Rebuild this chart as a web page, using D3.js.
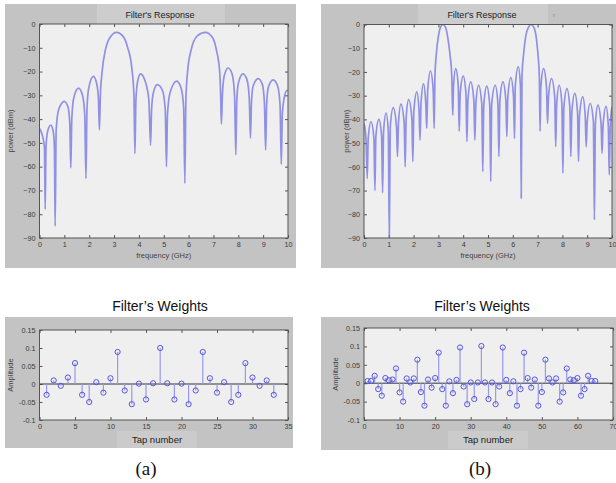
<!DOCTYPE html>
<html><head><meta charset="utf-8">
<script src="https://cdn.jsdelivr.net/npm/d3@7"></script>
<style>body{margin:0;background:#fff}svg{display:block}</style>
</head><body>
<svg id="c" width="616" height="483"></svg>
<script>
// ---------- DATA ----------
const freqTicks = [0,1,2,3,4,5,6,7,8,9,10];
const powerTicks = [0,-10,-20,-30,-40,-50,-60,-70,-80,-90];
const ampTicks = [0.15,0.1,0.05,0,-0.05,-0.1];
const tapTicksA = [0,5,10,15,20,25,30,35];
const tapTicksB = [0,10,20,30,40,50,60,70];

// response (a): [GHz, dBm]
const respA = [
[0,-44],[0.12,-47],[0.2,-52],[0.23,-78],
[0.26,-52],[0.33,-45],[0.45,-42.5],[0.55,-45],[0.6,-52],[0.63,-85],
[0.67,-45],[0.77,-36],[1.0,-32.5],[1.15,-35],[1.22,-42],[1.26,-60.5],
[1.3,-40],[1.38,-31],[1.57,-27],[1.73,-30],[1.82,-38],[1.87,-65],
[1.91,-36],[1.98,-27],[2.17,-22],[2.3,-25],[2.37,-31],[2.41,-44.5],
[2.45,-30],[2.52,-20],[2.65,-11],[2.85,-5.5],[3.1,-3.5],[3.35,-5],[3.55,-10],[3.72,-19],[3.8,-30],[3.84,-54.5],
[3.88,-32],[3.95,-24],[4.07,-21],[4.25,-24],[4.4,-32],[4.47,-51],
[4.51,-36],[4.58,-29],[4.74,-25.5],[4.95,-28],[5.06,-36],[5.11,-60],
[5.15,-38],[5.25,-29],[5.52,-24],[5.7,-27],[5.8,-35],[5.85,-67],
[5.89,-32],[5.96,-20],[6.1,-11],[6.35,-5],[6.68,-3.5],[6.95,-5.5],[7.12,-11],[7.25,-20],[7.29,-30],[7.32,-42],
[7.36,-30],[7.43,-22],[7.59,-18.5],[7.75,-21],[7.85,-30],[7.9,-55],
[7.94,-32],[8.01,-24.5],[8.19,-21],[8.35,-23.5],[8.44,-31],[8.49,-48],
[8.53,-33],[8.6,-26],[8.8,-23],[8.97,-25.5],[9.05,-33],[9.1,-53],
[9.14,-34],[9.21,-26.5],[9.4,-23.5],[9.58,-26],[9.68,-34],[9.73,-59],
[9.77,-38],[9.85,-31],[9.95,-28],[10,-28]
];

// response (b): [GHz, dBm]
const respB = [
[0,-41.7],[0.08,-48],[0.13,-65],
[0.17,-48],[0.28,-41],[0.4,-48],[0.44,-70],
[0.48,-47],[0.6,-40],[0.71,-47],[0.75,-71],
[0.79,-45],[0.89,-37.3],[0.98,-45],[1.02,-90],
[1.06,-43],[1.18,-35],[1.31,-43],[1.35,-55.7],
[1.39,-41.5],[1.49,-33.6],[1.62,-41.5],[1.66,-60],
[1.7,-39.5],[1.8,-31.7],[1.93,-39.5],[1.97,-57.8],
[2.01,-36.5],[2.13,-28.4],[2.22,-36.5],[2.26,-48.7],
[2.3,-33],[2.4,-25],[2.49,-33],[2.53,-43.8],
[2.57,-27.5],[2.68,-19.6],[2.79,-27.5],[2.83,-43.8],
[2.86,-22],[2.92,-12],[3.0,-5],[3.09,-1],[3.18,0],[3.28,-1],[3.37,-5],[3.46,-12],[3.54,-22],[3.58,-38.2],
[3.61,-26],[3.7,-18.6],[3.8,-26],[3.84,-45],
[3.88,-29],[4.0,-21.8],[4.11,-29],[4.15,-49.4],
[4.19,-32],[4.3,-24.2],[4.43,-32],[4.47,-48.7],
[4.51,-33.5],[4.62,-25.6],[4.75,-33.5],[4.79,-62],
[4.83,-34],[4.95,-26],[5.07,-34],[5.11,-66.2],
[5.15,-33.5],[5.29,-25.6],[5.4,-33.5],[5.44,-55.7],
[5.48,-32],[5.6,-24.2],[5.72,-32],[5.76,-47.3],
[5.8,-30.5],[5.92,-22.4],[6.03,-30.5],[6.07,-48],
[6.1,-26],[6.22,-17.9],[6.31,-26],[6.34,-73.2],
[6.37,-22],[6.44,-12],[6.52,-5],[6.64,-1],[6.73,0],[6.84,-1],[6.94,-5],[7.01,-12],[7.07,-22],[7.1,-45],
[7.13,-26.5],[7.24,-18.6],[7.36,-26.5],[7.4,-41.7],
[7.44,-30.5],[7.56,-22.8],[7.69,-30.5],[7.73,-51.5],
[7.77,-33.5],[7.87,-25.6],[7.98,-33.5],[8.02,-62.7],
[8.06,-35],[8.18,-27],[8.3,-35],[8.34,-55.7],
[8.38,-37],[8.5,-29],[8.61,-37],[8.65,-57.8],
[8.69,-38.5],[8.82,-30.5],[8.92,-38.5],[8.96,-51.5],
[9.0,-41],[9.12,-33.3],[9.25,-41],[9.29,-82.4],
[9.33,-42],[9.43,-34],[9.56,-42],[9.6,-54.3],
[9.64,-42.5],[9.76,-34.5],[9.85,-42.5],[9.89,-63.4],
[9.93,-43],[10,-34.7]
];

// weights (a): 33 taps
const weightsA = [-0.03,0.01,-0.005,0.018,0.058,-0.03,-0.05,0.005,-0.024,0.016,0.089,-0.018,-0.056,0.001,-0.043,0.002,0.1,
 0.002,-0.043,0.001,-0.056,-0.018,0.089,0.016,-0.024,0.005,-0.05,-0.03,0.058,0.018,-0.005,0.01,-0.03];
// weights (b): 65 taps
const weightsB = [0.006,0.006,0.02,-0.016,-0.034,0.014,0.008,0.01,0.04,-0.025,-0.05,0.013,0.002,0.013,0.064,-0.024,-0.061,0.01,-0.012,0.014,0.083,-0.016,-0.061,0.005,-0.027,0.009,0.097,-0.009,-0.057,0.002,-0.043,0.002,0.101,
 0.002,-0.043,0.002,-0.057,-0.009,0.097,0.009,-0.027,0.005,-0.061,-0.016,0.083,0.014,-0.012,0.01,-0.061,-0.024,0.064,0.013,0.002,0.013,-0.05,-0.025,0.04,0.01,0.008,0.014,-0.034,-0.016,0.02,0.006,0.006];

// ---------- DRAW ----------
const svg = d3.select("#c");
const FONT = "'Liberation Sans', Arial, sans-serif";
const BG = "#c3c3c3", PLOT = "#efefef", BOX = "#cdcdcd";

function panel(o){
  const g = svg.append("g");
  g.append("rect").attr("x",o.bg[0]).attr("y",o.bg[1]).attr("width",o.bg[2]).attr("height",o.bg[3]).attr("fill",BG);
  const x = d3.scaleLinear().domain(o.xd).range([o.p[0],o.p[2]]);
  const y = d3.scaleLinear().domain(o.yd).range([o.p[3],o.p[1]]);
  g.append("rect").attr("x",o.p[0]).attr("y",o.p[1]).attr("width",o.p[2]-o.p[0]).attr("height",o.p[3]-o.p[1]).attr("fill",PLOT);
  const tl = 3;
  const styleAx = (a)=>{ a.select(".domain").remove();
    a.selectAll(".tick line").attr("stroke","#555");
    a.selectAll(".tick text").attr("fill","#3a3a3a").attr("font-family",FONT).attr("font-size",7.2); };
  g.append("g").attr("transform",`translate(0,${o.p[3]})`)
    .call(d3.axisBottom(x).tickValues(o.xt).tickSize(-tl).tickPadding(4).tickFormat(d3.format("d"))).call(styleAx);
  g.append("g").attr("transform",`translate(0,${o.p[1]})`)
    .call(d3.axisTop(x).tickValues(o.xt).tickSize(-tl).tickFormat("")).call(styleAx);
  g.append("g").attr("transform",`translate(${o.p[0]},0)`)
    .call(d3.axisLeft(y).tickValues(o.yt).tickSize(-tl).tickPadding(4).tickFormat(o.yf)).call(styleAx);
  g.append("g").attr("transform",`translate(${o.p[2]},0)`)
    .call(d3.axisRight(y).tickValues(o.yt).tickSize(-tl).tickFormat("")).call(styleAx);
  return {g,x,y};
}

function respPanel(o, data){
  const {g,x,y} = panel(o);
  const clip = "clip"+Math.round(o.p[0]);
  svg.append("clipPath").attr("id",clip).append("rect")
    .attr("x",o.p[0]).attr("y",o.p[1]-2).attr("width",o.p[2]-o.p[0]).attr("height",o.p[3]-o.p[1]+2);
  const line = d3.line().x(d=>x(d[0])).y(d=>y(d[1])).curve(d3.curveMonotoneX);
  g.append("path").attr("d",line(data)).attr("fill","none").attr("clip-path",`url(#${clip})`)
    .attr("stroke","#7070e0").attr("stroke-opacity",0.75).attr("stroke-width",1.7).attr("stroke-linejoin","round");
  g.append("rect").attr("x",o.box[0]).attr("y",o.box[1]).attr("width",o.box[2]).attr("height",o.box[3]).attr("fill",BOX);
  // frame
  g.append("rect").attr("x",o.p[0]).attr("y",o.p[1]).attr("width",o.p[2]-o.p[0]).attr("height",o.p[3]-o.p[1])
    .attr("fill","none").attr("stroke","#555").attr("stroke-width",1);
  g.append("text").attr("x",o.tx).attr("y",o.box[1]+14).attr("text-anchor","middle")
    .attr("font-family",FONT).attr("font-size",9).attr("fill","#222").text("Filter's Response");
  g.append("text").attr("x",(o.p[0]+o.p[2])/2).attr("y",o.p[3]+20).attr("text-anchor","middle")
    .attr("font-family",FONT).attr("font-size",7.5).attr("fill","#444").text("frequency (GHz)");
  g.append("text").attr("transform",`translate(${o.yl},${(o.p[1]+o.p[3])/2}) rotate(-90)`).attr("text-anchor","middle")
    .attr("font-family",FONT).attr("font-size",7.5).attr("fill","#444").text(o.ylab);
  return g;
}

function stemPanel(o, w){
  const {g,x,y} = panel(o);
  const taps = w.map((v,i)=>[i+1,v]);
  g.append("line").attr("x1",o.p[0]).attr("x2",o.p[2]).attr("y1",y(0)).attr("y2",y(0)).attr("stroke","#333").attr("stroke-width",1);
  g.selectAll(".stem").data(taps).join("line")
    .attr("x1",d=>x(d[0])).attr("x2",d=>x(d[0])).attr("y1",y(0)).attr("y2",d=>y(d[1]))
    .attr("stroke","#9898ee").attr("stroke-width",1.2);
  g.selectAll(".mk").data(taps).join("circle")
    .attr("cx",d=>x(d[0])).attr("cy",d=>y(d[1])).attr("r",2.6)
    .attr("fill","none").attr("stroke","#5555e0").attr("stroke-width",1);
  g.append("rect").attr("x",o.p[0]).attr("y",o.p[1]).attr("width",o.p[2]-o.p[0]).attr("height",o.p[3]-o.p[1])
    .attr("fill","none").attr("stroke","#555").attr("stroke-width",1);
  g.append("rect").attr("x",o.box[0]).attr("y",o.box[1]).attr("width",o.box[2]).attr("height",o.box[3]).attr("fill",BOX).attr("fill-opacity",0.85);
  g.append("text").attr("x",o.box[0]+o.box[2]/2).attr("y",o.box[1]+12).attr("text-anchor","middle")
    .attr("font-family",FONT).attr("font-size",9.5).attr("fill","#222").text("Tap number");
  g.append("text").attr("transform",`translate(${o.yl},${(o.p[1]+o.p[3])/2}) rotate(-90)`).attr("text-anchor","middle")
    .attr("font-family",FONT).attr("font-size",7.5).attr("fill","#444").text("Amplitude");
  svg.append("text").attr("x",o.tx).attr("y",o.bg[1]-6).attr("text-anchor","middle")
    .attr("font-family",FONT).attr("font-size",14).attr("fill","#111").text("Filter’s Weights");
  svg.append("text").attr("x",o.lx).attr("y",475).attr("text-anchor","middle")
    .attr("font-family","'Liberation Serif','Times New Roman',serif").attr("font-size",19).attr("fill","#111").text(o.lab);
}

respPanel({bg:[5,4,291,264], p:[39.5,24,288,238], xd:[0,10], yd:[-90,0], xt:freqTicks, yt:powerTicks,
  yf:d3.format("d"), box:[97,4,128,20], tx:160, yl:13, ylab:"power (dBm)"}, respA);
const gB = respPanel({bg:[321,4,295,264], p:[364,24.5,612,238], xd:[0,10], yd:[-90,0], xt:freqTicks, yt:powerTicks,
  yf:d3.format("d"), box:[418,4,130,20], tx:482, yl:349, ylab:"power (dBm)"}, respB);
gB.append("text").attr("x",553).attr("y",17).attr("font-family",FONT).attr("font-size",6).attr("fill","#888").text("r");

const ampFmt = d=> d===0 ? "0" : String(d);
stemPanel({bg:[5,317,288,131], p:[39.5,330,288,420], xd:[0,35], yd:[-0.1,0.15], xt:tapTicksA, yt:ampTicks,
  yf:ampFmt, box:[117,431,80,17], tx:160, yl:13, lx:146, lab:"(a)"}, weightsA);
stemPanel({bg:[321,317,295,133], p:[364,328,613,420], xd:[0,70], yd:[-0.1,0.15], xt:tapTicksB, yt:ampTicks,
  yf:ampFmt, box:[448,431,80,18], tx:482, yl:338, lx:480, lab:"(b)"}, weightsB);
</script>
</body></html>
